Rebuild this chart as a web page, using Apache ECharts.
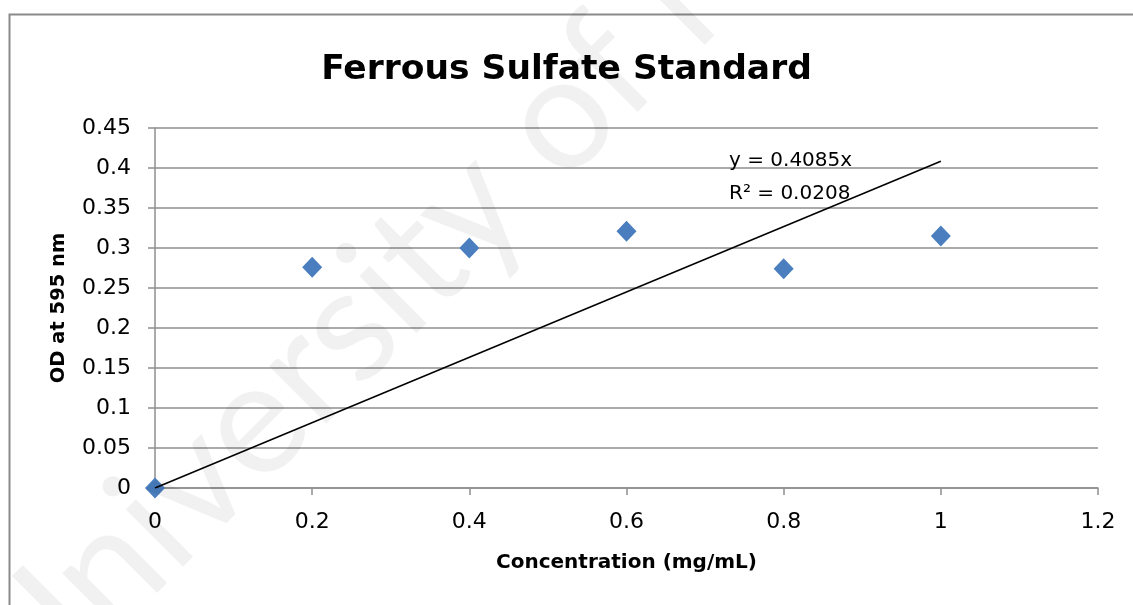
<!DOCTYPE html>
<html>
<head>
<meta charset="utf-8">
<script src="https://cdn.jsdelivr.net/npm/echarts@6/dist/echarts.min.js"></script>
<style>
  html, body { margin: 0; padding: 0; background: #ffffff; }
  #chart { width: 1133px; height: 605px; }
</style>
</head>
<body>
<div id="chart"></div>
<script>
// Ferrous sulfate standard curve: absorbance at 595 nm vs concentration
const concentration = [0, 0.2, 0.4, 0.6, 0.8, 1.0];
const odValues = [0.000, 0.276, 0.300, 0.321, 0.274, 0.315];

// Linear trendline through the origin (y = slope * x)
const trendSlope = 0.4085;
const trendRange = [0, 1.0];
const trendLabel = ['y = 0.4085x', 'R\u00B2 = 0.0208'];

const xTicks = { min: 0, max: 1.2, interval: 0.2 };
const yTicks = { min: 0, max: 0.45, interval: 0.05 };

const FONT = '"DejaVu Sans", Verdana, sans-serif';
const GRID_COLOR = '#8e8e8e';

const chart = echarts.init(document.getElementById('chart'), null, { renderer: 'canvas' });

const scatterData = concentration.map((x, i) => [x, odValues[i]]);
const trendData = trendRange.map(x => [x, +(trendSlope * x).toFixed(4)]);

chart.setOption({
  backgroundColor: '#ffffff',
  animation: false,
  title: {
    text: 'Ferrous Sulfate Standard',
    left: 'center',
    top: 48,
    textStyle: { fontFamily: FONT, fontWeight: 'bold', fontSize: 34.5, color: '#000000' }
  },
  grid: { left: 155, right: 35, top: 128, bottom: 117, containLabel: false },
  xAxis: {
    type: 'value',
    min: xTicks.min, max: xTicks.max, interval: xTicks.interval,
    name: 'Concentration (mg/mL)',
    nameLocation: 'middle',
    nameGap: 65,
    nameTextStyle: { fontFamily: FONT, fontWeight: 'bold', fontSize: 20, color: '#000000' },
    axisLine: { show: true, onZero: false, lineStyle: { color: GRID_COLOR, width: 1.5 } },
    axisTick: { show: true, length: 7, lineStyle: { color: GRID_COLOR, width: 1.5 } },
    axisLabel: {
      fontFamily: FONT, fontSize: 22, color: '#000000', margin: 23,
      formatter: v => String(+v.toFixed(2))
    },
    splitLine: { show: false }
  },
  yAxis: {
    type: 'value',
    min: yTicks.min, max: yTicks.max, interval: yTicks.interval,
    name: 'OD at 595 nm',
    nameLocation: 'middle',
    nameGap: 86,
    nameRotate: 90,
    nameTextStyle: { fontFamily: FONT, fontWeight: 'bold', fontSize: 19.5, color: '#000000' },
    axisLine: { show: true, onZero: false, lineStyle: { color: GRID_COLOR, width: 1.5 } },
    axisTick: { show: true, length: 7, lineStyle: { color: GRID_COLOR, width: 1.5 } },
    axisLabel: {
      fontFamily: FONT, fontSize: 22, color: '#000000', margin: 24,
      formatter: v => String(+v.toFixed(2))
    },
    splitLine: { show: true, lineStyle: { color: GRID_COLOR, width: 1.5 } }
  },
  series: [
    {
      name: 'OD',
      type: 'scatter',
      data: scatterData,
      symbol: 'diamond',
      symbolSize: [20, 21],
      itemStyle: { color: '#4A7EBF', borderWidth: 0, opacity: 1 },
      z: 3
    },
    {
      name: 'Linear (OD)',
      type: 'line',
      data: trendData,
      showSymbol: false,
      symbol: 'none',
      lineStyle: { color: '#000000', width: 1.5 },
      z: 4,
      silent: true
    }
  ],
  graphic: [
    {
      // outer chart frame
      type: 'rect',
      shape: { x: 9.5, y: 14.5, width: 1200, height: 700 },
      style: { fill: 'none', stroke: '#8a8a8a', lineWidth: 2 },
      z: 1,
      silent: true
    },
    {
      type: 'text',
      left: 729,
      top: 144,
      style: {
        text: trendLabel.join('\n'),
        fontFamily: FONT, fontSize: 20, lineHeight: 33, fill: '#000000'
      },
      z: 10
    },
    {
      // faint diagonal watermark
      type: 'text',
      x: 50, y: 740,
      rotation: Math.PI / 4,
      style: {
        text: 'University of M',
        fontFamily: 'Lato, sans-serif', fontSize: 160, fill: 'rgba(0,0,0,0.055)',
        textAlign: 'left', textVerticalAlign: 'bottom'
      },
      z: 100,
      silent: true
    }
  ]
});
</script>
</body>
</html>
